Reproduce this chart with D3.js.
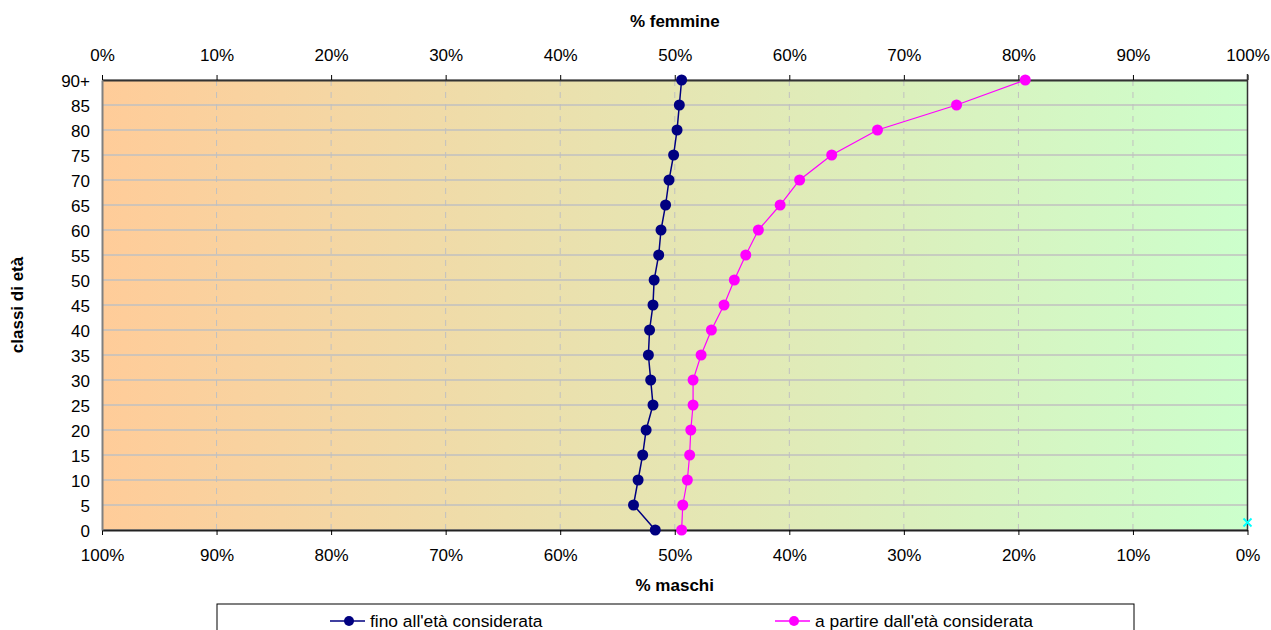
<!DOCTYPE html>
<html><head><meta charset="utf-8">
<script src="https://cdn.jsdelivr.net/npm/d3@7"></script>
<style>
body{margin:0;background:#fff;}
text{font-family:"Liberation Sans",Arial,sans-serif;}
</style></head>
<body><svg id="c" width="1271" height="630"></svg>
<script>
const categories = ["0","5","10","15","20","25","30","35","40","45","50","55","60","65","70","75","80","85","90+"];
const finoEta = [0.483,0.464,0.468,0.472,0.475,0.481,0.479,0.477,0.478,0.481,0.482,0.486,0.488,0.492,0.495,0.499,0.502,0.504,0.506];
const aPartireEta = [0.506,0.507,0.511,0.513,0.514,0.516,0.516,0.523,0.532,0.543,0.552,0.562,0.573,0.592,0.609,0.637,0.677,0.746,0.806];
const markerX = [1.0];
const markerY = [0.3];
const topTicks = [0,0.1,0.2,0.3,0.4,0.5,0.6,0.7,0.8,0.9,1.0];
const seriesNames = ["fino all'età considerata","a partire dall'età considerata"];

const svg = d3.select("#c");
const L=102, R=1247.5, T=80, B=530;
const FS = 17;
const x = d3.scaleLinear().domain([0,1]).range([L,R]);
const xM = d3.scaleLinear().domain([1,0]).range([L,R]);
const y = d3.scalePoint().domain(categories).range([B,T]);
const yLin = d3.scaleLinear().domain([0,categories.length-1]).range([B,T]);

const defs = svg.append("defs");
const g = defs.append("linearGradient").attr("id","bg").attr("x1","0%").attr("x2","100%").attr("y1","0%").attr("y2","0%");
g.append("stop").attr("offset","0%").attr("stop-color","#FFCC99");
g.append("stop").attr("offset","100%").attr("stop-color","#CCFFCC");

svg.append("rect").attr("x",L).attr("y",T).attr("width",R-L).attr("height",B-T).attr("fill","url(#bg)");

svg.append("g").selectAll("line").data(categories).join("line")
  .attr("x1",L).attr("x2",R).attr("y1",d=>y(d)).attr("y2",d=>y(d))
  .attr("stroke","#c0c0c0").attr("stroke-width",1.5);
svg.append("g").selectAll("line").data(topTicks.slice(1,-1)).join("line")
  .attr("x1",d=>x(d)).attr("x2",d=>x(d)).attr("y1",T).attr("y2",B)
  .attr("stroke","#c0c0c0").attr("stroke-width",1).attr("stroke-dasharray","6,6");

const fmt = d3.format(".0%");
const topAxis = svg.append("g").attr("transform",`translate(0,${T})`)
  .call(d3.axisTop(x).tickValues(topTicks).tickFormat(fmt).tickSize(5).tickSizeOuter(0));
const botAxis = svg.append("g").attr("transform",`translate(0,${B})`)
  .call(d3.axisBottom(xM).tickValues(topTicks).tickFormat(fmt).tickSize(5).tickSizeOuter(0));
const leftAxis = svg.append("g").attr("transform",`translate(${L},0)`)
  .call(d3.axisLeft(y).tickSize(0).tickPadding(12));
[topAxis,botAxis,leftAxis].forEach(a=>{
  a.attr("font-size",FS).attr("font-family","Liberation Sans, Arial, sans-serif");
  a.selectAll("text").attr("fill","#000");
  a.selectAll(".tick line").attr("stroke","#000");
});
topAxis.select(".domain").attr("stroke","#333").attr("stroke-width",2);
botAxis.select(".domain").attr("stroke","#222").attr("stroke-width",2);
leftAxis.select(".domain").attr("stroke","#808080").attr("stroke-width",2);
topAxis.selectAll("text").attr("y",-19).attr("dy",0);
botAxis.selectAll("text").attr("y",31).attr("dy",0);
leftAxis.selectAll("text").attr("dy","0.36em");
svg.append("line").attr("x1",R).attr("x2",R).attr("y1",T-6).attr("y2",B).attr("stroke","#333").attr("stroke-width",1.5);

const line = d3.line().x(d=>x(d[1])).y(d=>y(d[0]));
const s1 = categories.map((c,i)=>[c,finoEta[i]]);
const s2 = categories.map((c,i)=>[c,aPartireEta[i]]);
svg.append("path").datum(s2).attr("d",line).attr("fill","none").attr("stroke","#FF00FF").attr("stroke-width",1.2);
svg.append("g").selectAll("circle").data(s2).join("circle")
  .attr("cx",d=>x(d[1])).attr("cy",d=>y(d[0])).attr("r",5.5).attr("fill","#FF00FF");
svg.append("path").datum(s1).attr("d",line).attr("fill","none").attr("stroke","#000080").attr("stroke-width",1.5);
svg.append("g").selectAll("circle").data(s1).join("circle")
  .attr("cx",d=>x(d[1])).attr("cy",d=>y(d[0])).attr("r",5.5).attr("fill","#000080");

svg.append("g").selectAll("path").data(markerX.map((v,i)=>[v,markerY[i]])).join("path")
  .attr("d",d=>{const cx=x(d[0]),cy=yLin(d[1]);return `M${cx-4},${cy-4}L${cx+4},${cy+4}M${cx-4},${cy+4}L${cx+4},${cy-4}`;})
  .attr("stroke","#00FFFF").attr("stroke-width",1.8);

svg.append("text").attr("x",(L+R)/2).attr("y",27).attr("text-anchor","middle").attr("font-weight","bold").attr("font-size",17).text("% femmine");
svg.append("text").attr("x",(L+R)/2).attr("y",591).attr("text-anchor","middle").attr("font-weight","bold").attr("font-size",17).text("% maschi");
svg.append("text").attr("transform",`translate(23,${(T+B)/2}) rotate(-90)`).attr("text-anchor","middle").attr("font-weight","bold").attr("font-size",17).text("classi di età");

svg.append("rect").attr("x",217).attr("y",604).attr("width",917).attr("height",40).attr("fill","#fff").attr("stroke","#000").attr("stroke-width",1);
const legItems = [{name:seriesNames[0],color:"#000080",x0:330},{name:seriesNames[1],color:"#FF00FF",x0:775}];
const lg = svg.append("g").selectAll("g").data(legItems).join("g");
lg.append("line").attr("x1",d=>d.x0).attr("x2",d=>d.x0+35).attr("y1",621).attr("y2",621).attr("stroke",d=>d.color).attr("stroke-width",1.5);
lg.append("circle").attr("cx",d=>d.x0+19).attr("cy",621).attr("r",5).attr("fill",d=>d.color);
lg.append("text").attr("x",d=>d.x0+40).attr("y",626.5).attr("font-size",17.4).text(d=>d.name);
</script></body></html>
